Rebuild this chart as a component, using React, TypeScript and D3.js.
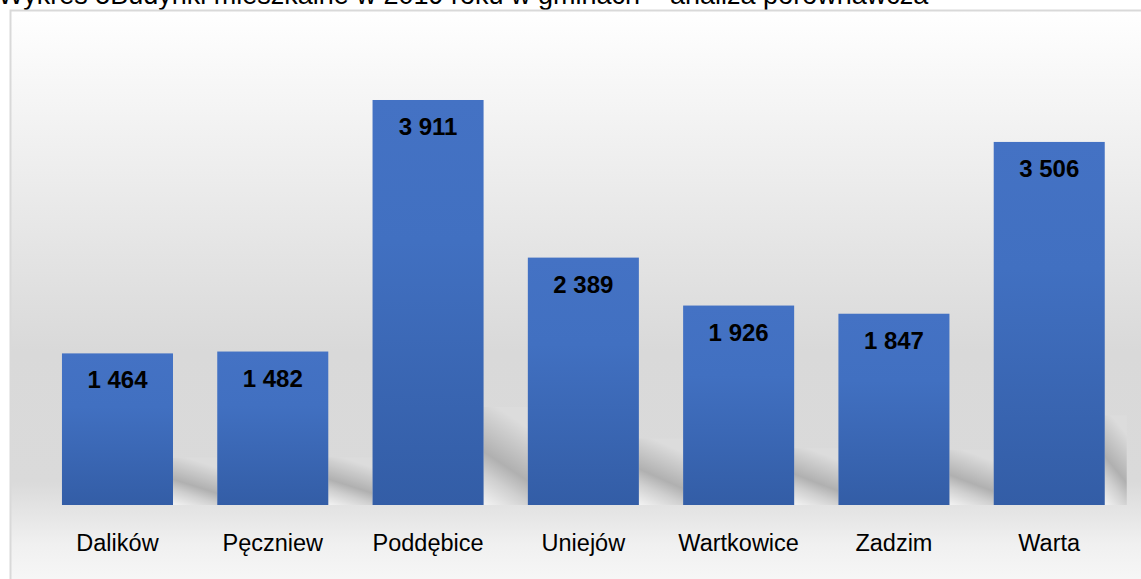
import React from "react";
import * as d3 from "d3";

const categories = ["Dalików", "Pęczniew", "Poddębice", "Uniejów", "Wartkowice", "Zadzim", "Warta"];
const values = [1464, 1482, 3911, 2389, 1926, 1847, 3506];
const valueLabels = ["1 464", "1 482", "3 911", "2 389", "1 926", "1 847", "3 506"];
const title = "Wykres 5Budynki mieszkalne w 2019 roku w gminach – analiza porównawcza";

const W = 1141;
const H = 579;

export default function App() {
  const x = d3.scaleBand<string>().domain(categories).range([17.7, 1149]).paddingInner(0.285).paddingOuter(0.285);
  const y = d3.scaleLinear().domain([0, 4500]).range([505, 39]);
  const bw = x.bandwidth();
  const step = x.step();
  const font = "'Liberation Sans', Arial, sans-serif";

  return (
    <svg width={W} height={H} style={{ position: "absolute", left: 0, top: 0, display: "block" }}>
      <defs>
        <linearGradient id="bg" x1="0" y1="0" x2="0" y2="1">
          <stop offset="0" stopColor="#ffffff" />
          <stop offset="0.55" stopColor="#d9d9d9" />
          <stop offset="0.76" stopColor="#dadada" />
          <stop offset="0.86" stopColor="#f0f0f0" />
          <stop offset="1" stopColor="#ffffff" />
        </linearGradient>
        <linearGradient id="bar" x1="0" y1="0" x2="0" y2="1">
          <stop offset="0" stopColor="#4472c4" />
          <stop offset="0.35" stopColor="#4170c1" />
          <stop offset="1" stopColor="#335da6" />
        </linearGradient>
        <linearGradient id="shadow" x1="0" y1="1" x2="0.3" y2="0">
          <stop offset="0" stopColor="#f3f3f3" />
          <stop offset="0.3" stopColor="#cfcfcf" />
          <stop offset="0.5" stopColor="#b0b0b0" />
          <stop offset="0.7" stopColor="#c2c2c2" />
          <stop offset="1" stopColor="#dcdcdc" />
        </linearGradient>
      </defs>
      <text x={-2} y={4} fontFamily={font} fontSize={27} fill="#000">{title}</text>
      <rect x={10.5} y={10.5} width={1140} height={620} fill="url(#bg)" stroke="#d9d9d9" strokeWidth={2} />
      {categories.map((c, i) => {
        const bx = x(c)!;
        const barH = y(0) - y(values[i]);
        const sh = 0.2 * barH + 17;
        const gapW = i === categories.length - 1 ? 22 : step - bw;
        return (
          <g key={c}>
            <rect x={bx + bw} y={y(0) - sh} width={gapW} height={sh} fill="url(#shadow)" />
            <rect x={bx} y={y(values[i])} width={bw} height={barH} fill="url(#bar)" />
            <text x={bx + bw / 2} y={y(values[i]) + 35} textAnchor="middle" fontFamily={font} fontWeight="bold" fontSize={24} fill="#000">
              {valueLabels[i]}
            </text>
            <text x={bx + bw / 2} y={551} textAnchor="middle" fontFamily={font} fontSize={23.5} fill="#000">
              {c}
            </text>
          </g>
        );
      })}
    </svg>
  );
}
